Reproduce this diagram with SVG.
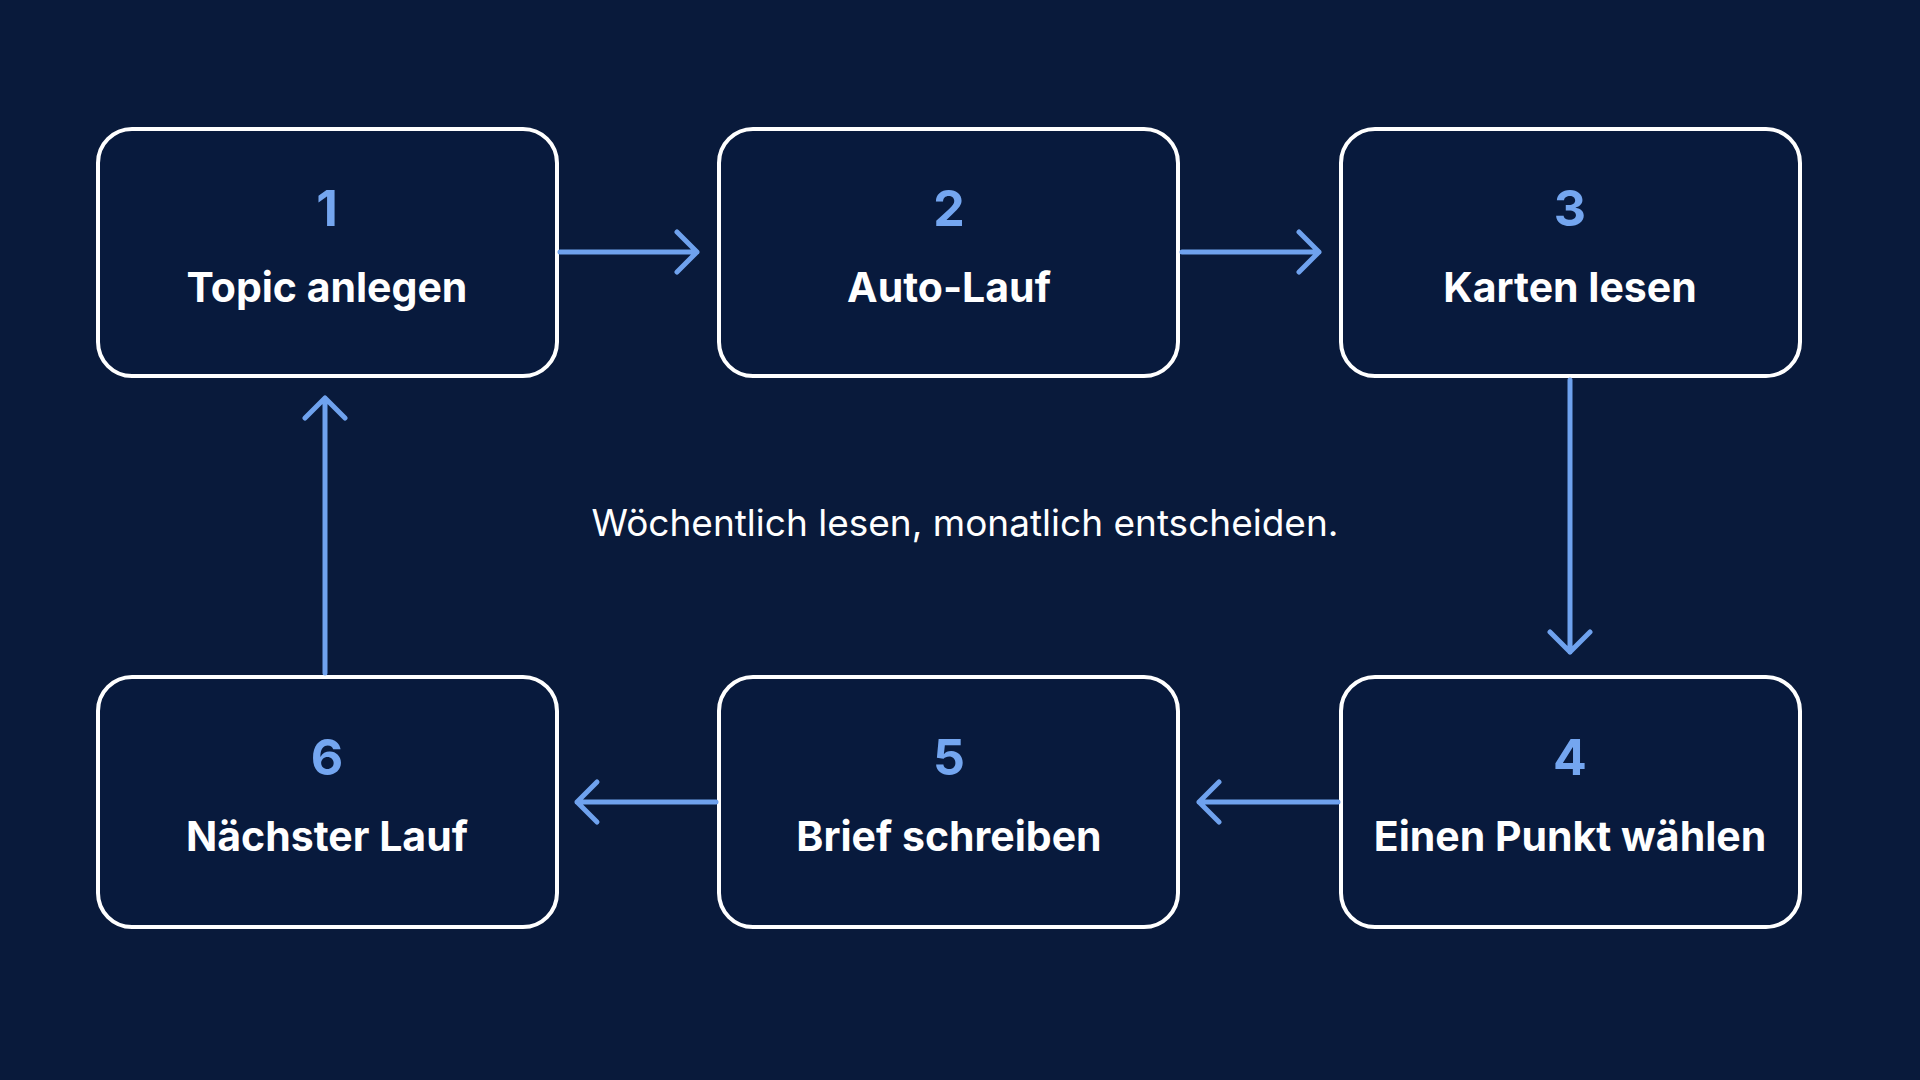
<svg xmlns="http://www.w3.org/2000/svg" width="1920" height="1080" viewBox="0 0 1920 1080">
<style>
.box{fill:#081a3d;stroke:#ffffff;stroke-width:4}
.num{font-family:Inter,"Liberation Sans",sans-serif;font-weight:700;font-size:50px;fill:#74a6f0;text-anchor:middle}
.lbl{font-family:Inter,"Liberation Sans",sans-serif;font-weight:700;font-size:41px;fill:#ffffff;text-anchor:middle}
.con{stroke:#6fa2ee;stroke-width:5;fill:none;stroke-linecap:round;stroke-linejoin:round}
</style>
<rect width="1920" height="1080" fill="#091a3b"/>
<g id="n1"><rect class="box" x="98" y="129" width="459" height="247" rx="34"/><text class="num" x="327" y="226">1</text><text class="lbl" x="327" y="302">Topic anlegen</text></g>
<g id="n2"><rect class="box" x="719" y="129" width="459" height="247" rx="34"/><text class="num" x="949" y="226">2</text><text class="lbl" x="949" y="302">Auto-Lauf</text></g>
<g id="n3"><rect class="box" x="1341" y="129" width="459" height="247" rx="34"/><text class="num" x="1570" y="226">3</text><text class="lbl" x="1570" y="302">Karten lesen</text></g>
<g id="n4"><rect class="box" x="1341" y="677" width="459" height="250" rx="34"/><text class="num" x="1570" y="775">4</text><text class="lbl" x="1570" y="851">Einen Punkt wählen</text></g>
<g id="n5"><rect class="box" x="719" y="677" width="459" height="250" rx="34"/><text class="num" x="949" y="775">5</text><text class="lbl" x="949" y="851">Brief schreiben</text></g>
<g id="n6"><rect class="box" x="98" y="677" width="459" height="250" rx="34"/><text class="num" x="327" y="775">6</text><text class="lbl" x="327" y="851">Nächster Lauf</text></g>
<text x="965" y="536" font-family="Inter,'Liberation Sans',sans-serif" font-size="37" fill="#ffffff" text-anchor="middle">Wöchentlich lesen, monatlich entscheiden.</text>
<g id="connectors">
<path class="con" d="M560 252H697M677 232l20 20-20 20"/>
<path class="con" d="M1182 252H1319M1299 232l20 20-20 20"/>
<path class="con" d="M1570 380V652M1550 632l20 20 20-20"/>
<path class="con" d="M1338 802H1199M1219 782l-20 20 20 20"/>
<path class="con" d="M716 802H577M597 782l-20 20 20 20"/>
<path class="con" d="M325 673V398M305 418l20-20 20 20"/>
</g>
</svg>
